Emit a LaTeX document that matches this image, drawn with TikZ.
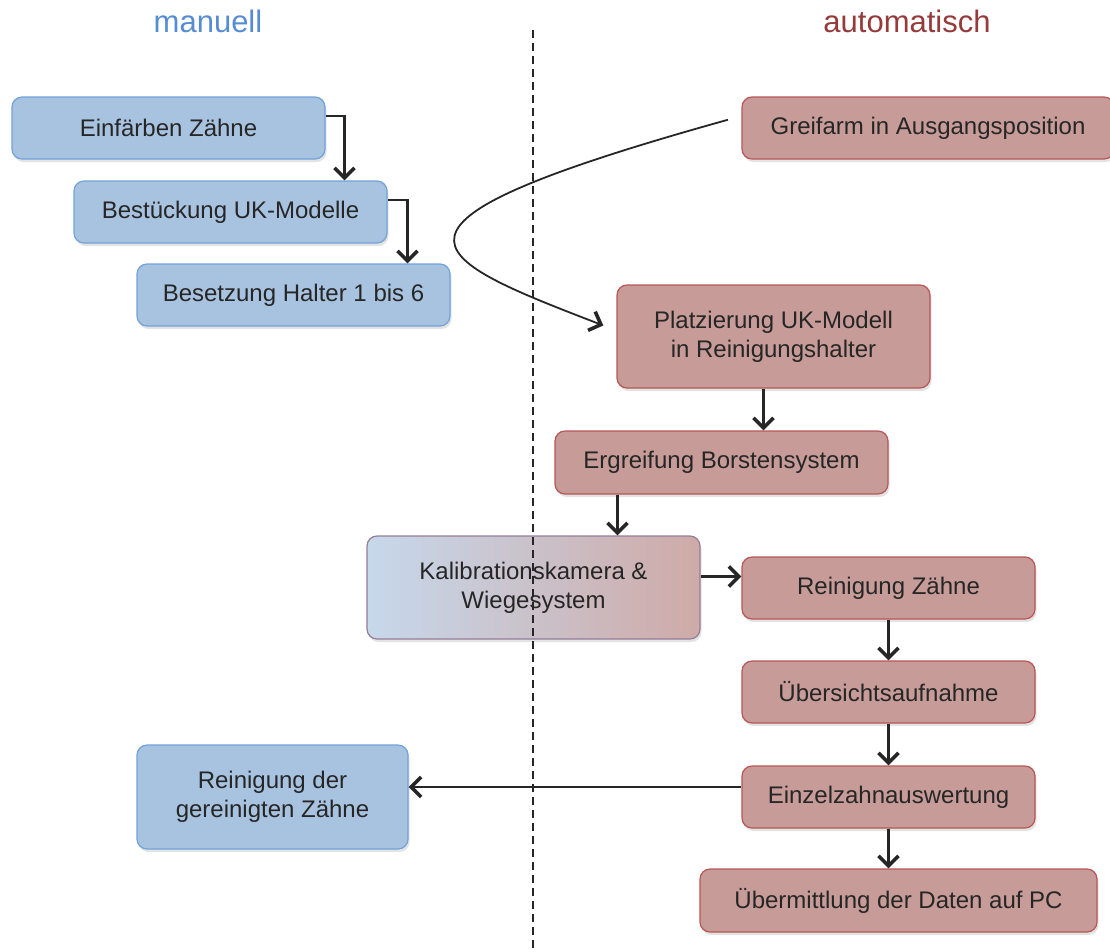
\documentclass[tikz,border=0pt]{standalone}
\usepackage{fontspec}
\setmainfont{Liberation Sans}
\usetikzlibrary{arrows.meta,shadows}

\begin{document}
\begin{tikzpicture}[x=1pt,y=-1pt,
	box/.style={rounded corners=10pt,draw,line width=1.2pt,align=center,
		text=black!85,font=\fontsize{24}{29}\selectfont,inner sep=2pt,
		drop shadow={opacity=0.22,shadow xshift=1.5pt,shadow yshift=-3pt}},
	manbox/.style={box,fill=mancolor,draw=manrand},
	autobox/.style={box,fill=autocolor,draw=autorand},
	pfeil/.style={-{Straight Barb[length=10pt,width=20pt,line width=3.6pt]},
		line width=2.3pt,draw=black!85},
	titel/.style={font=\fontsize{31}{36}\selectfont}]
	%%% Farben
	\definecolor{mancolor}{RGB}{168,195,224}   % blau
	\definecolor{manrand}{RGB}{112,163,218}
	\definecolor{autocolor}{RGB}{198,155,152}  % rot
	\definecolor{autorand}{RGB}{184,86,86}
	\definecolor{mantext}{RGB}{86,140,212}
	\definecolor{autotext}{RGB}{150,58,58}

	\useasboundingbox (0,0) rectangle (1110,951);

	%%% Spaltenköpfe
	\node[titel,text=mantext] (kopfman) at (208,21) {manuell};
	\node[titel,text=autotext] (kopfauto) at (907,21) {automatisch};

	%%% manuell
	\node[manbox,minimum width=313,minimum height=62] (einf) at (168.5,128) {Einfärben Zähne};
	\node[manbox,minimum width=313,minimum height=62] (best) at (230.5,212) {Bestückung UK-Modelle};
	\node[manbox,minimum width=313,minimum height=62] (besetz) at (293.5,295) {Besetzung Halter 1 bis 6};
	\node[manbox,minimum width=271,minimum height=104] (reing) at (272.5,797) {Reinigung der\\gereinigten Zähne};

	%%% automatisch
	\node[autobox,minimum width=372,minimum height=62] (greif) at (928,128) {Greifarm in Ausgangsposition};
	\node[autobox,minimum width=313,minimum height=103] (platz) at (773.5,336.5) {Platzierung UK-Modell\\in Reinigungshalter};
	\node[autobox,minimum width=333,minimum height=63] (ergr) at (721.5,462.5) {Ergreifung Borstensystem};
	\node[box,left color=mancolor!65!white,right color=autocolor!85!white,draw=manrand!50!autorand,
		minimum width=333,minimum height=103] (kalib) at (533.5,587.5) {Kalibrationskamera \&\\Wiegesystem};
	\node[autobox,minimum width=293,minimum height=62] (reinz) at (888.5,588) {Reinigung Zähne};
	\node[autobox,minimum width=293,minimum height=62] (uebers) at (888.5,692) {Übersichtsaufnahme};
	\node[autobox,minimum width=293,minimum height=62] (einzel) at (888.5,797) {Einzelzahnauswertung};
	\node[autobox,minimum width=397,minimum height=63] (uebermit) at (898.5,900.5) {Übermittlung der Daten auf PC};

	%%% Verbindungen
	\draw[pfeil] ([yshift=12pt]einf.east) -| ([xshift=114pt]best.north);
	\draw[pfeil] ([yshift=12pt]best.east) -| ([xshift=114pt]besetz.north);
	\draw[pfeil,line width=1.8pt,shorten <=14pt,shorten >=14pt] ([yshift=12pt]greif.west)
		.. controls (350,225) and (420,255) .. ([yshift=6pt]platz.west);
	\draw[pfeil] ([xshift=-10pt]platz.south) -- ([xshift=-10pt]platz.south |- ergr.north);
	\draw[pfeil] ([xshift=84pt]kalib.north |- ergr.south) -- ([xshift=84pt]kalib.north);
	\draw[pfeil] ([yshift=11pt]kalib.east) -- ([yshift=11pt]kalib.east -| reinz.west);
	\draw[pfeil] (reinz.south) -- (uebers.north);
	\draw[pfeil] (uebers.south) -- (einzel.north);
	\draw[pfeil] (einzel.south) -- (einzel.south |- uebermit.north);
	\draw[pfeil] ([yshift=10pt]einzel.west) -- ([yshift=10pt]einzel.west -| reing.east);

	%%% Trennlinie
	\draw[line width=1.6pt,dash pattern=on 8pt off 5pt,black!85] (533,30) -- (533,951);
\end{tikzpicture}
\end{document}
